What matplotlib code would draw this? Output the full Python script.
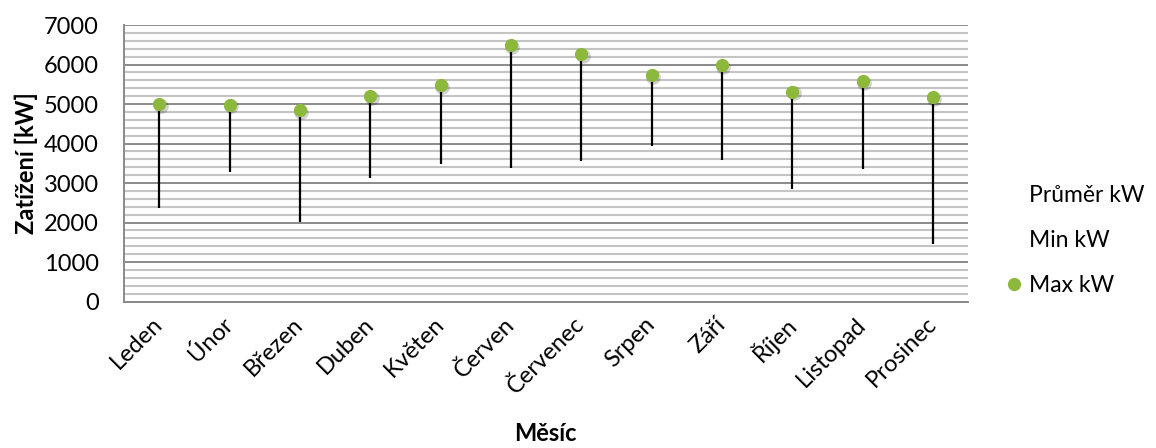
import matplotlib

matplotlib.use("Agg")
import matplotlib.pyplot as plt
from matplotlib.lines import Line2D
from matplotlib.ticker import MultipleLocator

# monthly load extremes
months = ["Leden", "Únor", "Březen", "Duben", "Květen", "Červen",
          "Červenec", "Srpen", "Září", "Říjen", "Listopad", "Prosinec"]
max_kw = [4990, 4985, 4850, 5200, 5480, 6495, 6265, 5735, 5980, 5310, 5585, 5180]
min_kw = [2360, 3270, 2005, 3135, 3480, 3380, 3565, 3945, 3575, 2840, 3355, 1455]

GREEN = "#8CB83C"
MAJOR = "#8A8A8A"
MINOR = "#C4C4C4"
FS = 17

plt.rcParams["font.family"] = ["Lato", "DejaVu Sans"]

fig = plt.figure(figsize=(11.56, 4.48), dpi=100)
ax = fig.add_axes([0.1073, 0.327, 0.7301, 0.617])

x = list(range(len(months)))

# high-low lines
ax.vlines(x, min_kw, max_kw, colors="black", linewidth=1.6, zorder=3)

# shadow under markers, then the markers
ax.plot([xi + 0.02 for xi in x], [v - 40 for v in max_kw], "o", ms=10.5,
        color="#000000", alpha=0.18, markeredgewidth=0, zorder=4)
ax.plot(x, max_kw, "o", ms=9.5, color=GREEN, markeredgewidth=0, zorder=5)

ax.set_xlim(-0.5, len(months) - 0.5)
ax.set_ylim(0, 7000)
ax.yaxis.set_major_locator(MultipleLocator(1000))
ax.yaxis.set_minor_locator(MultipleLocator(200))
ax.grid(which="minor", axis="y", color=MINOR, linewidth=1.5, zorder=0)
ax.grid(which="major", axis="y", color=MAJOR, linewidth=1.4, zorder=1)
ax.set_axisbelow(True)

for side in ("top", "right"):
    ax.spines[side].set_visible(False)
ax.spines["left"].set_color(MAJOR)
ax.spines["left"].set_linewidth(1.4)
ax.spines["bottom"].set_color(MAJOR)
ax.spines["bottom"].set_linewidth(1.4)

ax.tick_params(axis="both", which="both", length=0)
ax.tick_params(axis="y", labelsize=FS, pad=18)
ax.set_xticks(x)
ax.set_xticklabels(months, rotation=45, ha="right", va="center",
                   rotation_mode="anchor", fontsize=FS)
ax.tick_params(axis="x", pad=14)

ax.set_ylabel("Zatížení [kW]", fontsize=FS, fontweight="bold", labelpad=4)
fig.text(0.472, 0.006, "Měsíc", ha="center", va="bottom",
         fontsize=FS, fontweight="bold")

handles = [
    Line2D([], [], linestyle="none", marker="none", label="Průměr kW"),
    Line2D([], [], linestyle="none", marker="none", label="Min kW"),
    Line2D([], [], linestyle="none", marker="o", ms=9.5, color=GREEN,
           markeredgewidth=0, label="Max kW"),
]
fig.legend(handles=handles, loc="center left", bbox_to_anchor=(0.862, 0.464),
           frameon=False, fontsize=16.5, handlelength=0.5, handletextpad=0.4,
           labelspacing=1.05, borderpad=0)

fig.savefig("out.png", dpi=100)
